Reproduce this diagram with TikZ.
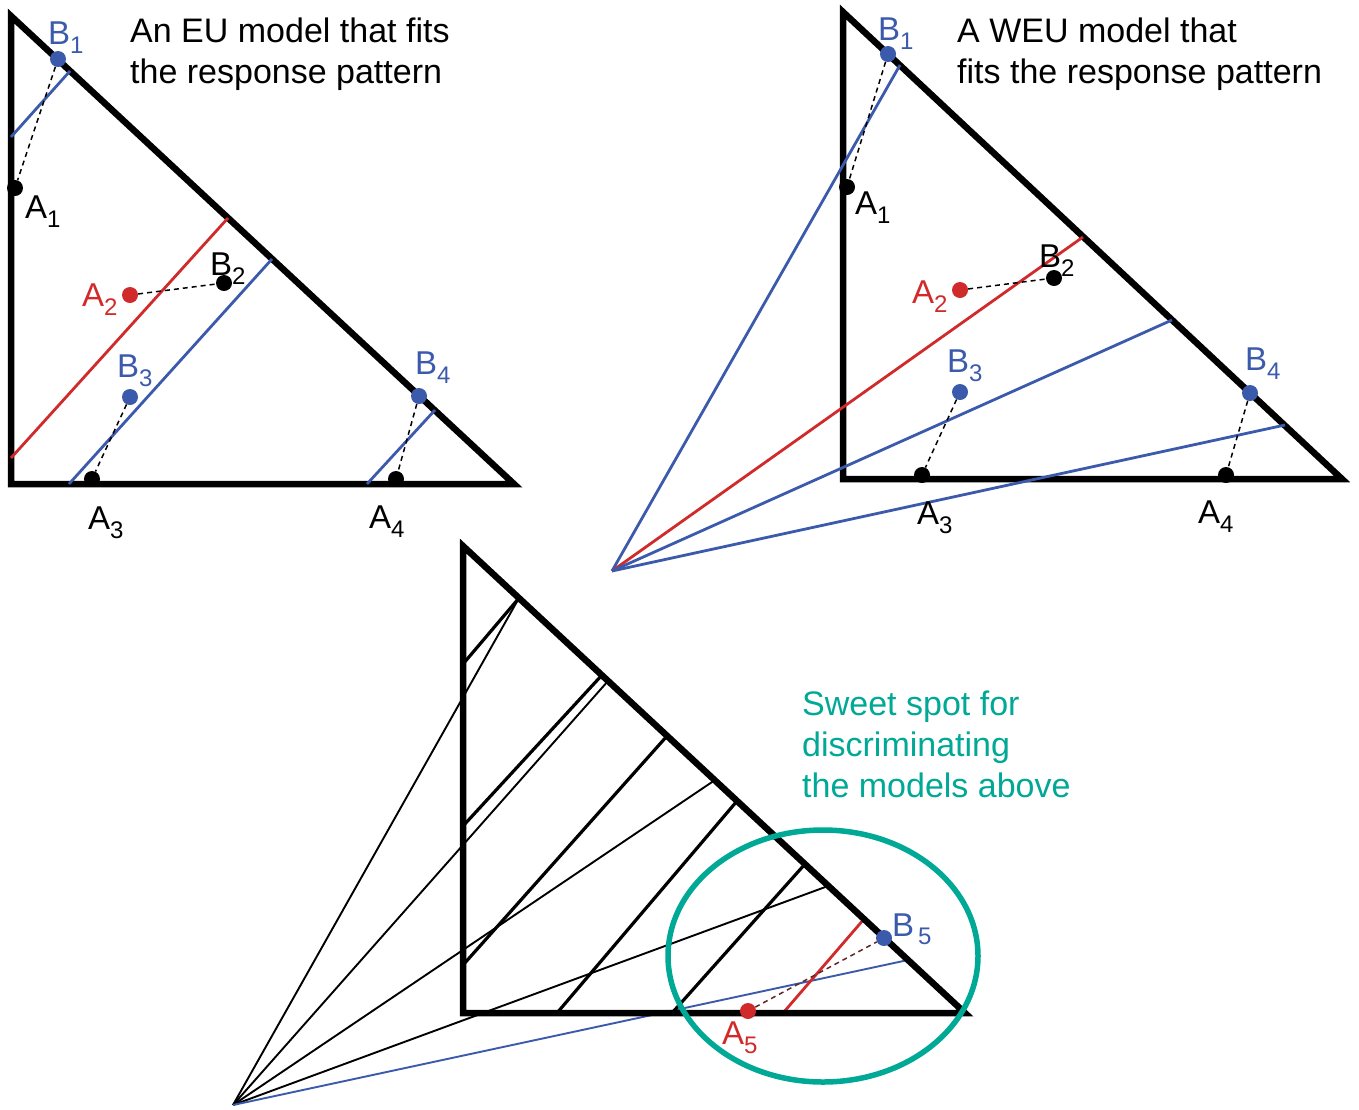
\documentclass[tikz,border=0pt]{standalone}
\usepackage{fontspec}
\setmainfont{Liberation Sans}
\usetikzlibrary{calc}
\definecolor{eublue}{RGB}{60,90,172}
\definecolor{eured}{RGB}{208,42,42}
\definecolor{sweet}{RGB}{0,168,150}
\definecolor{dashbrown}{RGB}{95,40,40}
\newcommand{\lbl}[2]{#1\raisebox{-9pt}{\fontsize{24}{24}\selectfont #2}}
\newcommand{\lblsp}[2]{#1\hspace{4pt}\raisebox{-8pt}{\fontsize{24}{24}\selectfont #2}}
\tikzset{
  tri/.style={draw=black, line width=6.5pt, line join=miter},
  blueline/.style={draw=eublue, line width=2.8pt},
  redline/.style={draw=eured, line width=2.8pt},
  fanline/.style={draw=black, line width=1.9pt},
  euline/.style={draw=black, line width=3.2pt},
  thinblue/.style={draw=eublue, line width=1.9pt},
  dashln/.style={draw=black, line width=1.5pt, dash pattern=on 5pt off 4pt},
  dotnode/.style={circle, inner sep=0pt, minimum size=16pt},
  bdot/.style={dotnode, fill=black},
  bludot/.style={dotnode, fill=eublue},
  reddot/.style={dotnode, fill=eured},
  lab/.style={anchor=base west, inner sep=0pt, font=\fontsize{33}{33}\selectfont},
  ttl/.style={anchor=base west, inner sep=0pt, font=\fontsize{34}{41}\selectfont},
}
\begin{document}
\begin{tikzpicture}[x=1pt,y=-1pt]
\useasboundingbox (0,0) rectangle (1359,1109);

% ================= Top-left: EU model =================
\coordinate (tlT) at (11,16);
\coordinate (tlL) at (11,484);
\coordinate (tlR) at (514,484);
\draw[tri] (tlT) -- (tlL) -- (tlR) -- cycle;

\coordinate (tlb1a) at (11,137);  \coordinate (tlb1b) at (70,71);
\coordinate (tlra)  at (11,458);  \coordinate (tlrb)  at (228,218);
\coordinate (tlb3a) at (69,484);  \coordinate (tlb3b) at (272,259);
\coordinate (tlb4a) at (367,484); \coordinate (tlb4b) at (435,410);
\draw[blueline] (tlb1a) -- (tlb1b);
\draw[redline]  (tlra) -- (tlrb);
\draw[blueline] (tlb3a) -- (tlb3b);
\draw[blueline] (tlb4a) -- (tlb4b);

\node[bludot] (tlB1) at (58,59) {};
\node[bdot]   (tlA1) at (15,188) {};
\node[reddot] (tlA2) at (130,295) {};
\node[bdot]   (tlB2) at (224,283) {};
\node[bludot] (tlB3) at (130,397) {};
\node[bdot]   (tlA3) at (92,479) {};
\node[bludot] (tlB4) at (419,396) {};
\node[bdot]   (tlA4) at (396,479) {};
\draw[dashln] (tlB1) -- (tlA1);
\draw[dashln] (tlA2) -- (tlB2);
\draw[dashln] (tlB3) -- (tlA3);
\draw[dashln] (tlB4) -- (tlA4);

\node[lab, text=eublue] (tlB1l) at (48,44) {\lbl{B}{1}};
\node[lab] (tlA1l) at (25,218) {\lbl{A}{1}};
\node[lab, text=eured] (tlA2l) at (82,306) {\lbl{A}{2}};
\node[lab] (tlB2l) at (210,275) {\lbl{B}{2}};
\node[lab, text=eublue] (tlB3l) at (117,377) {\lbl{B}{3}};
\node[lab] (tlA3l) at (88,529) {\lbl{A}{3}};
\node[lab] (tlA4l) at (369,528) {\lbl{A}{4}};
\node[lab, text=eublue] (tlB4l) at (415,374) {\lbl{B}{4}};

\node[ttl] (tlt1) at (130,42) {An EU model that fits};
\node[ttl] (tlt2) at (130,83) {the response pattern};

% ================= Top-right: WEU model =================
\coordinate (trT) at (843,12);
\coordinate (trL) at (843,479);
\coordinate (trR) at (1342,479);
\coordinate (trF) at (612,571);
\draw[tri] (trT) -- (trL) -- (trR) -- cycle;

\coordinate (trh1) at (900,65);
\coordinate (trh2) at (1083,237);
\coordinate (trh3) at (1172,320);
\coordinate (trh4) at (1285,425);
\draw[blueline] (trF) -- (trh1);
\draw[redline]  (trF) -- (trh2);
\draw[blueline] (trF) -- (trh3);
\draw[blueline] (trF) -- (trh4);

\node[bludot] (trB1) at (888,54) {};
\node[bdot]   (trA1) at (847,187) {};
\node[reddot] (trA2) at (960,290) {};
\node[bdot]   (trB2) at (1054,278) {};
\node[bludot] (trB3) at (960,392) {};
\node[bdot]   (trA3) at (922,475) {};
\node[bludot] (trB4) at (1250,393) {};
\node[bdot]   (trA4) at (1226,475) {};
\draw[dashln] (trB1) -- (trA1);
\draw[dashln] (trA2) -- (trB2);
\draw[dashln] (trB3) -- (trA3);
\draw[dashln] (trB4) -- (trA4);

\node[lab, text=eublue] (trB1l) at (878,40) {\lbl{B}{1}};
\node[lab] (trA1l) at (855,214) {\lbl{A}{1}};
\node[lab, text=eured] (trA2l) at (912,303) {\lbl{A}{2}};
\node[lab] (trB2l) at (1039,267) {\lbl{B}{2}};
\node[lab, text=eublue] (trB3l) at (947,372) {\lbl{B}{3}};
\node[lab] (trA3l) at (917,524) {\lbl{A}{3}};
\node[lab] (trA4l) at (1198,523) {\lbl{A}{4}};
\node[lab, text=eublue] (trB4l) at (1245,370) {\lbl{B}{4}};

\node[ttl] (trt1) at (957,42) {A WEU model that};
\node[ttl] (trt2) at (957,83) {fits the response pattern};

% ================= Bottom: sweet spot =================
\coordinate (bT) at (463,546);
\coordinate (bL) at (463,1013);
\coordinate (bR) at (965,1013);
\coordinate (bG) at (233,1105);

% hypotenuse points
\coordinate (bh1) at (519,598);
\coordinate (bh2) at (602,675);
\coordinate (bh3) at (608,681);
\coordinate (bh4) at (667,736);
\coordinate (bh5) at (715,780);
\coordinate (bh6) at (737,801);
\coordinate (bh7) at (805,864);
\coordinate (bh8) at (828,886);
\coordinate (bh9) at (864,919);
\coordinate (bh10) at (908,960);
% lower ends of parallel lines
\coordinate (be1) at (463,664);
\coordinate (be2) at (463,826);
\coordinate (be4) at (463,965);
\coordinate (be6) at (557,1013);
\coordinate (be7) at (672,1013);
\coordinate (be9) at (783,1013);

\draw[fanline] (bG) -- (bh1);
\draw[fanline] (bG) -- (bh3);
\draw[fanline] (bG) -- (bh5);
\draw[fanline] (bG) -- (bh8);
\draw[thinblue] (bG) -- (bh10);

\draw[euline] (bh1) -- (be1);
\draw[euline] (bh2) -- (be2);
\draw[euline] (bh4) -- (be4);
\draw[euline] (bh6) -- (be6);
\draw[euline] (bh7) -- (be7);
\draw[redline] (bh9) -- (be9);

\draw[tri] (bT) -- (bL) -- (bR) -- cycle;

\node[reddot] (bA5) at (748,1011) {};
\node[bludot] (bB5) at (884,938) {};
\draw[dashln, draw=dashbrown] (bA5) -- (bB5);

\node[lab, text=eublue] (bB5l) at (892,936) {\lblsp{B}{5}};
\node[lab, text=eured] (bA5l) at (722,1044) {\lbl{A}{5}};

\draw[draw=sweet, line width=5.5pt] (823,956) ellipse [x radius=155pt, y radius=126pt];

\node[ttl, text=sweet] (sw1) at (802,715) {Sweet spot for};
\node[ttl, text=sweet] (sw2) at (802,756) {discriminating};
\node[ttl, text=sweet] (sw3) at (802,797) {the models above};

\end{tikzpicture}
\end{document}
